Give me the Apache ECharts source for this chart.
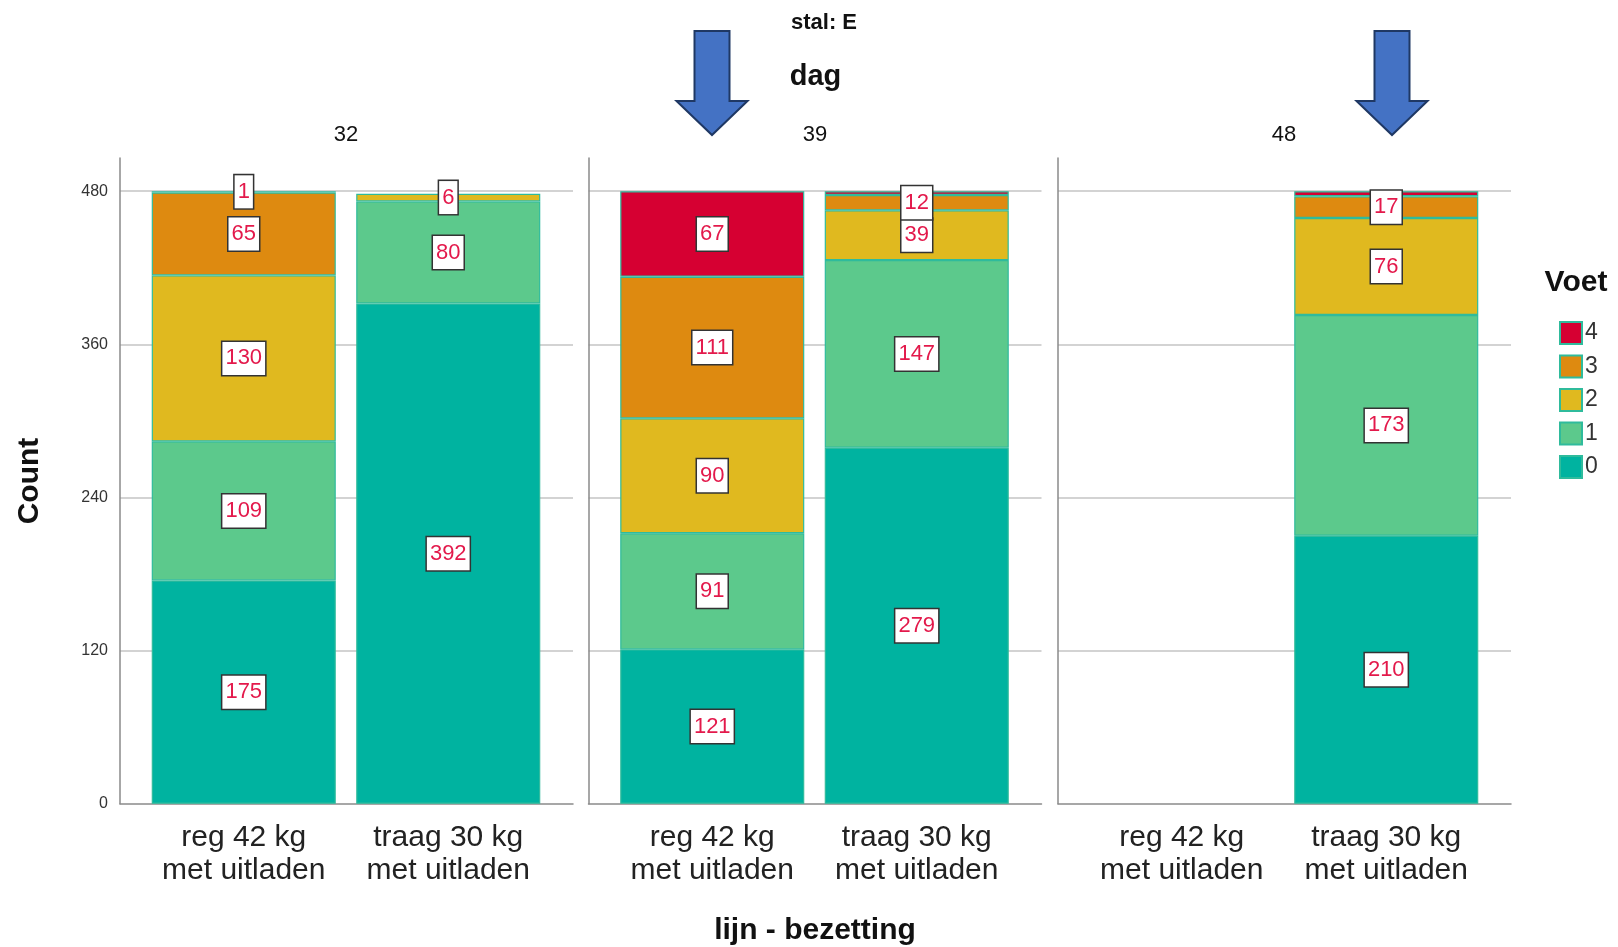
<!DOCTYPE html>
<html>
<head>
<meta charset="utf-8">
<script src="https://cdn.jsdelivr.net/npm/echarts@6/dist/echarts.min.js"></script>
<style>
html,body{margin:0;padding:0;background:#fff;}
#chart{width:1618px;height:947px;}
</style>
</head>
<body>
<div id="chart"></div>
<script>
// ---- data ----
const categories = ['reg 42 kg\nmet uitladen', 'traag 30 kg\nmet uitladen'];
const days = ['32', '39', '48'];
const voetNames = ['0', '1', '2', '3', '4'];
// values per day: [reg, traag]
const voet0 = [[175, 392], [121, 279], [null, 210]];
const voet1 = [[109, 80], [91, 147], [null, 173]];
const voet2 = [[130, 6], [90, 39], [null, 76]];
const voet3 = [[65, null], [111, 12], [null, 17]];
const voet4 = [[1, null], [67, 3], [null, 4]];
// labels that are suppressed in the reference (day index, category index, voet)
const hiddenLabels = [[1, 1, 4], [2, 1, 4]];
const yTicks = [0, 120, 240, 360, 480];

const voetData = [voet0, voet1, voet2, voet3, voet4];
const colors = ['#00b3a0', '#5cc98c', '#e0b91f', '#de8a10', '#d60032'];
const FONT = "'Liberation Sans', Arial, sans-serif";

const panelLeft = [120, 588.5, 1058];
const panelWidth = 453;
const gridTop = 158, gridBottom = 143.2;
const YMAX = 506;

const grids = [], xAxes = [], yAxes = [], series = [];
for (let i = 0; i < 3; i++) {
  grids.push({left: panelLeft[i], width: panelWidth, top: gridTop, bottom: gridBottom});
}
for (let i = 0; i < 3; i++) {
  grids.push({left: panelLeft[i] + 21.5, width: 409, top: gridTop, bottom: gridBottom});
}
for (let i = 0; i < 3; i++) {
  xAxes.push({gridIndex: i, type: 'value', min: 0, max: 1,
    axisLine: {show: true, onZero: false, lineStyle: {color: '#8a8a8a', width: 1.5}},
    axisTick: {show: false}, axisLabel: {show: false}, splitLine: {show: false}});
  yAxes.push({gridIndex: i, type: 'value', min: 0, max: YMAX, interval: 120,
    axisLine: {show: true, lineStyle: {color: '#8a8a8a', width: 1.5}},
    axisTick: {show: false},
    axisLabel: {show: i === 0, showMaxLabel: false, fontSize: 16, color: '#333', fontFamily: FONT, margin: 12,
      formatter: v => yTicks.indexOf(v) >= 0 ? String(v) : ''},
    splitLine: {show: true, showMinLine: false, showMaxLine: false, lineStyle: {color: '#d3d3d3', width: 2}}});
}
for (let i = 0; i < 3; i++) {
  xAxes.push({gridIndex: 3 + i, type: 'category', data: categories, boundaryGap: true,
    axisLine: {show: false}, axisTick: {show: false},
    axisLabel: {fontSize: 30, lineHeight: 33, color: '#222', fontFamily: FONT, margin: 17, interval: 0}});
  yAxes.push({gridIndex: 3 + i, type: 'value', min: 0, max: YMAX, show: false, splitLine: {show: false}});
}

function isHidden(d, c, v) {
  return hiddenLabels.some(h => h[0] === d && h[1] === c && h[2] === v);
}

for (let d = 0; d < 3; d++) {
  for (let v = 0; v < 5; v++) {
    const vals = voetData[v][d];
    series.push({
      type: 'bar', name: voetNames[v], stack: 'day' + d,
      xAxisIndex: 3 + d, yAxisIndex: 3 + d,
      barWidth: '90%',
      itemStyle: {color: colors[v], borderColor: '#2fbb9c', borderWidth: 1.2},
      label: {show: true, position: 'inside', color: '#e3194b', fontSize: 22, fontFamily: FONT,
        backgroundColor: '#fff', borderColor: '#333', borderWidth: 1.5, padding: [6, 3, 5, 3]},
      data: vals.map((val, c) => val == null ? null :
        (isHidden(d, c, v) ? {value: val, label: {show: false}} : val)),
      z: 2
    });
  }
}

function arrow(cx) {
  const s = 17.5, h = 35.5;
  return {type: 'polygon', z: 100,
    shape: {points: [[cx - s, 31], [cx + s, 31], [cx + s, 101], [cx + h, 101], [cx, 135], [cx - h, 101], [cx - s, 101]]},
    style: {fill: '#4472c4', stroke: '#1f3864', lineWidth: 2}};
}
function txt(x, y, text, size, bold, extra) {
  return Object.assign({type: 'text', x: x, y: y, z: 100,
    style: {text: text, font: (bold ? 'bold ' : '') + size + 'px ' + FONT, fill: '#111',
      textAlign: 'center', textVerticalAlign: 'middle'}}, extra || {});
}

const option = {
  animation: false,
  backgroundColor: '#fff',
  color: colors,
  grid: grids, xAxis: xAxes, yAxis: yAxes, series: series,
  legend: {data: ['4', '3', '2', '1', '0'], orient: 'vertical', left: 1554, top: 316, icon: 'rect',
    itemWidth: 22, itemHeight: 22, itemGap: 9.5,
    textStyle: {fontSize: 23, lineHeight: 22, color: '#333', fontFamily: FONT, padding: [0, 0, 0, -2]}},
  graphic: [
    txt(824, 23, 'stal: E', 22, true),
    txt(815.5, 77, 'dag', 29, true),
    txt(346, 135, days[0], 22, false),
    txt(815, 135, days[1], 22, false),
    txt(1284, 135, days[2], 22, false),
    txt(30, 481, 'Count', 30, true, {rotation: Math.PI / 2}),
    txt(815, 931, 'lijn - bezetting', 30, true),
    txt(1576, 283, 'Voet', 30, true),
    arrow(712), arrow(1392)
  ]
};
const chart = echarts.init(document.getElementById('chart'), null, {renderer: 'canvas'});
chart.setOption(option);
</script>
</body>
</html>
